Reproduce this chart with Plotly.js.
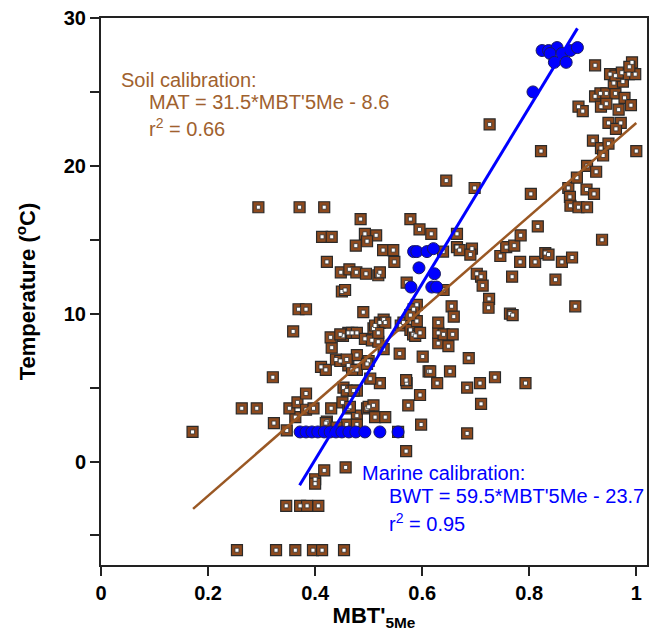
<!DOCTYPE html>
<html>
<head>
<meta charset="utf-8">
<script src="https://cdn.plot.ly/plotly-3.0.1.min.js"></script>
<style>html,body{margin:0;padding:0;background:#fff}#chart{width:656px;height:631px}</style>
</head>
<body>
<div id="chart"></div>
<script>
// Soil samples (MBT'5Me, MAT)
const soilX = [0.254,0.327,0.363,0.396,0.413,0.454,
0.346,0.372,0.385,0.406,0.400,0.400,0.417,0.457,
0.570,0.684,0.598,
0.171,0.323,0.347,0.363,0.263,0.291,0.352,0.367,0.383,0.397,0.383,0.321,0.422,0.430,0.451,0.462,0.478,0.497,0.459,0.478,0.453,0.459,0.478,0.472,
0.465,0.500,0.509,0.512,0.531,
0.574,0.596,0.710,0.684,0.708,0.736,0.793,
0.521,0.503,0.571,0.570,0.628,
0.612,0.615,0.652,
0.558,0.601,0.687,
0.411,0.420,0.439,0.462,0.478,0.478,0.500,0.447,0.459,0.497,0.469,
0.528,0.630,0.649,
0.431,0.429,0.452,0.462,0.447,0.469,0.478,0.493,0.506,0.518,0.509,0.512,0.521,0.528,0.531,0.518,
0.560,0.565,0.578,0.590,0.583,0.587,0.596,
0.630,0.640,0.657,0.630,0.655,0.659,
0.590,0.584,0.578,
0.359,0.369,0.383,0.490,
0.450,0.456,
0.640,0.571,
0.448,0.464,0.477,0.495,0.518,0.521,
0.422,0.548,
0.413,0.431,0.476,0.493,0.514,0.497,
0.527,0.546,
0.294,0.371,0.417,
0.485,0.578,
0.595,0.617,0.665,
0.645,0.698,
0.639,0.665,0.670,0.693,0.690,
0.702,0.710,0.713,
0.725,0.724,
0.764,0.769,
0.746,0.757,0.772,0.784,
0.768,0.783,0.811,0.830,0.836,0.861,0.880,0.849,
0.816,0.936,0.886,
0.726,0.822,0.803,
0.873,0.907,0.921,0.876,0.877,0.892,0.908,
0.889,0.908,0.925,
0.919,0.934,0.948,0.938,1.000,
0.948,0.971,0.962,
0.892,0.900,
0.923,0.933,0.944,0.961,0.978,0.934,0.944,0.967,0.990,
0.958,0.975,
0.951,0.961,0.973,0.986,0.998,
0.923,0.992,0.987,
0.555,0.420,0.440];
const soilY = [-6.0,-6.0,-6.0,-6.0,-6.0,-6.0,
-3.0,-3.0,-3.0,-3.0,-1.2,-1.5,-0.6,-0.4,
0.7,1.9,2.5,
2.0,2.6,2.1,3.0,3.6,3.6,3.6,4.0,3.5,3.6,4.6,5.7,2.7,3.6,4.0,3.6,3.1,3.6,2.5,2.5,5.0,4.8,4.8,4.8,
3.7,3.7,3.8,3.0,3.0,
3.8,4.5,3.9,5.0,5.3,5.7,5.3,
5.3,5.6,5.3,5.5,5.3,
6.1,6.1,6.1,
7.3,7.1,7.0,
6.4,6.2,6.9,6.5,7.2,6.2,6.8,6.8,6.9,6.6,6.2,
7.6,8.0,7.8,
7.7,8.4,8.5,8.7,8.6,8.7,8.7,8.3,8.2,8.1,9.0,9.2,9.4,9.6,9.4,8.7,
9.2,9.4,8.9,9.5,8.6,8.5,8.7,
8.7,8.6,8.6,9.4,10.5,9.8,
10.6,10.3,9.9,
8.8,10.3,10.3,10.1,
11.5,11.6,
11.6,12.1,
12.8,13.0,12.8,12.7,12.6,12.8,
13.5,13.5,
15.2,15.2,14.6,15.4,15.3,14.9,
14.3,14.3,
17.2,17.2,17.2,
16.4,16.4,
15.7,15.4,15.4,
19.0,18.5,
14.2,14.5,14.3,14.4,14.0,
12.7,12.5,11.9,
11.0,10.4,
10.0,9.9,
13.9,14.5,14.6,15.3,
12.5,13.5,13.5,14.1,14.0,13.5,13.8,12.3,
15.9,15.0,10.5,
22.8,21.0,18.1,
18.5,18.4,18.1,17.9,17.3,17.2,17.2,
19.2,20.0,19.6,
21.7,21.2,21.5,20.7,21.0,
22.9,22.9,22.5,
24.0,23.7,
24.7,24.9,24.9,24.9,24.6,24.0,24.2,23.8,24.1,
25.6,25.7,
26.2,26.1,26.3,26.2,26.2,
26.8,27.0,26.7,
2.0,2.6,2.3];

// Marine samples (MBT'5Me, BWT)
const marineX = [0.372,0.383,0.394,0.405,0.417,0.428,0.439,0.450,0.463,0.476,0.493,0.521,0.555,
0.584,0.590,0.609,0.621,0.594,0.623,0.579,0.618,0.627,
0.824,0.836,0.852,0.839,0.861,0.877,0.890,0.847,0.869,0.807];
const marineY = [2.0,2.0,2.0,2.0,2.0,2.0,2.0,2.0,2.0,2.0,2.0,2.0,2.0,
14.2,14.2,14.2,14.4,13.1,12.7,11.8,11.8,11.8,
27.8,27.8,28.0,27.6,27.6,27.8,28.0,27.0,27.0,25.0];

// Regression line end points
const soilLineX = [0.172, 1.0];
const soilLineY = [-3.2, 22.9];
const marineLineX = [0.371, 0.890];
const marineLineY = [-1.6, 29.3];

const brownText = '#A0612E';
const brownLine = '#9A5824';
const brownFill = '#8E4A1E';
const blue = '#0000FF';
const tickFont = {family: 'Liberation Sans, Arial, sans-serif', size: 20, color: '#000', weight: 'bold'};
const titleFont = {family: 'Liberation Sans, Arial, sans-serif', size: 22, color: '#000'};

const traces = [
  {x: soilX, y: soilY, type: 'scatter', mode: 'markers', hoverinfo: 'skip',
   marker: {symbol: 'square', size: 11, color: brownFill, line: {color: '#2a2a2a', width: 1.2}}},
  {x: soilX, y: soilY, type: 'scatter', mode: 'markers', hoverinfo: 'skip',
   marker: {symbol: 'square', size: 4, color: '#ffffff', line: {color: '#333', width: 0.8}}},
  {x: soilLineX, y: soilLineY, type: 'scatter', mode: 'lines', line: {color: brownLine, width: 2.5}},
  {x: marineX, y: marineY, type: 'scatter', mode: 'markers',
   marker: {symbol: 'circle', size: 12, color: blue, line: {color: '#1a1a60', width: 1}}},
  {x: marineLineX, y: marineLineY, type: 'scatter', mode: 'lines', line: {color: blue, width: 3}}
];

const annFont = (c) => ({family: 'Liberation Sans, Arial, sans-serif', size: 20, color: c});
const layout = {
  width: 656, height: 631,
  margin: {l: 101, r: 9, t: 18, b: 66},
  paper_bgcolor: '#fff', plot_bgcolor: '#fff',
  showlegend: false,
  xaxis: {range: [0, 1.02], tickvals: [0, 0.2, 0.4, 0.6, 0.8, 1], ticktext: ['0','0.2','0.4','0.6','0.8','1'],
    ticks: 'outside', ticklen: 9, tickwidth: 2, tickcolor: '#222',
    showline: true, mirror: true, linecolor: '#222', linewidth: 2, showgrid: false, zeroline: false,
    tickfont: tickFont,
    title: {text: "<b>MBT'<sub>5Me</sub></b>", font: titleFont, standoff: 6}},
  yaxis: {range: [-7, 30], tickvals: [-5, 0, 5, 10, 15, 20, 25, 30], ticktext: ['', '0', '', '10', '', '20', '', '30'],
    ticks: 'outside', ticklen: 9, tickwidth: 2, tickcolor: '#222',
    showline: true, mirror: true, linecolor: '#222', linewidth: 2, showgrid: false, zeroline: false,
    tickfont: tickFont,
    title: {text: '<b>Temperature (<sup>o</sup>C)</b>', font: titleFont, standoff: 22}},
  annotations: [
    {x: 0.034, y: 25.8, xref: 'x', yref: 'y', xanchor: 'left', yanchor: 'middle', showarrow: false, text: 'Soil calibration:', font: annFont(brownText)},
    {x: 0.086, y: 24.3, xref: 'x', yref: 'y', xanchor: 'left', yanchor: 'middle', showarrow: false, text: "MAT = 31.5*MBT'5Me - 8.6", font: annFont(brownText)},
    {x: 0.086, y: 22.6, xref: 'x', yref: 'y', xanchor: 'left', yanchor: 'middle', showarrow: false, text: 'r<sup>2</sup> = 0.66', font: annFont(brownText)},
    {x: 0.484, y: -0.8, xref: 'x', yref: 'y', xanchor: 'left', yanchor: 'middle', showarrow: false, text: 'Marine calibration:', font: annFont(blue)},
    {x: 0.534, y: -2.3, xref: 'x', yref: 'y', xanchor: 'left', yanchor: 'middle', showarrow: false, text: "BWT = 59.5*MBT'5Me - 23.7", font: annFont(blue)},
    {x: 0.534, y: -4.1, xref: 'x', yref: 'y', xanchor: 'left', yanchor: 'middle', showarrow: false, text: 'r<sup>2</sup> = 0.95', font: annFont(blue)}
  ]
};
Plotly.newPlot('chart', traces, layout, {staticPlot: true, displayModeBar: false});
</script>
</body>
</html>
